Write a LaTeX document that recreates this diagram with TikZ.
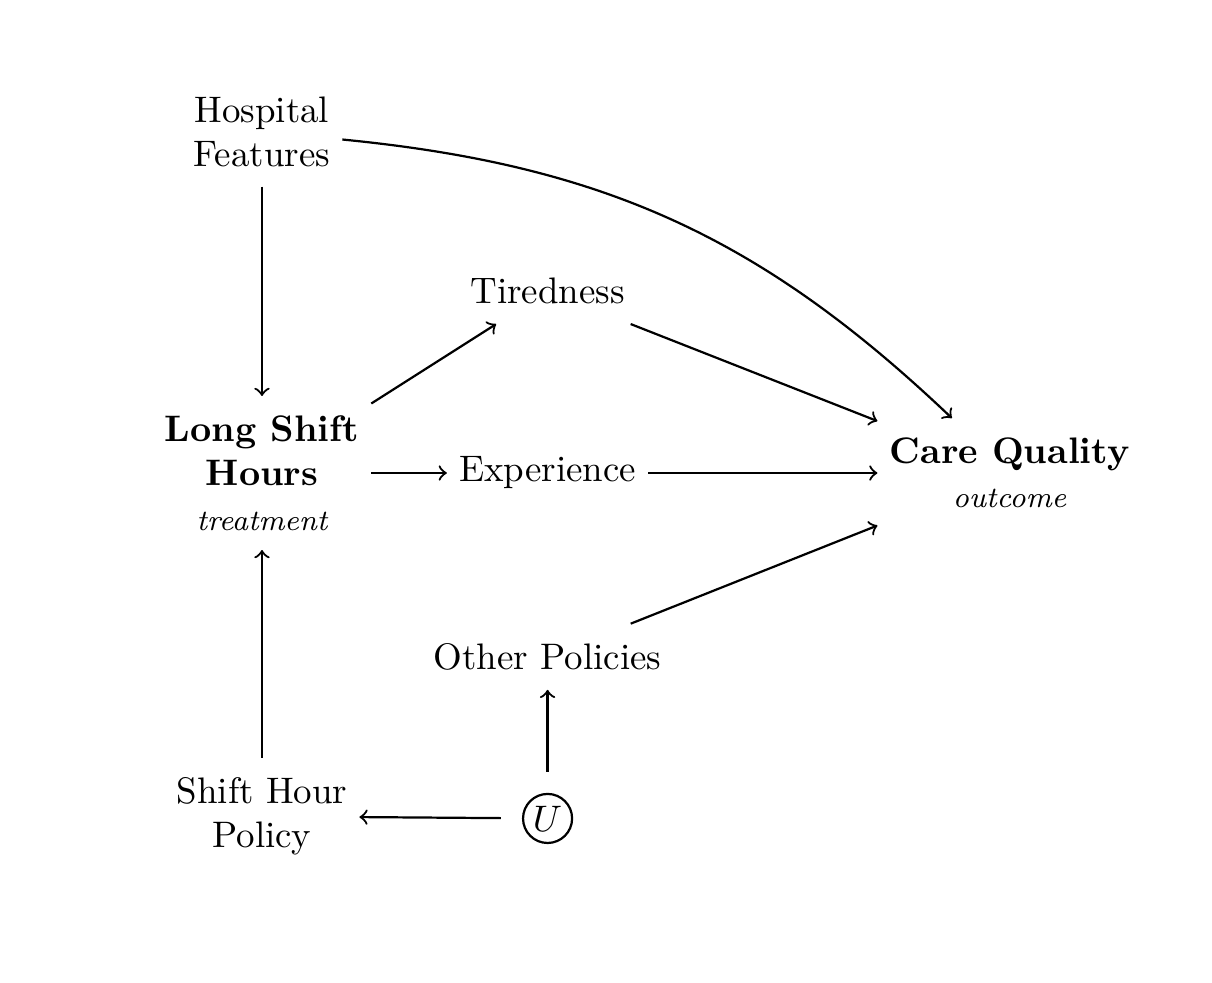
\documentclass[tikz,border=0pt]{standalone}
\usepackage{tikz}
\usetikzlibrary{positioning}

\begin{document}
\begin{tikzpicture}[>=to]

        % --- Styles ---
        \tikzset{
            var/.style={align=center, outer xsep=0pt, outer ysep=2pt},
            mainvar/.style={var, font=\bfseries},
            latent/.style={draw, semithick, circle, inner sep=1pt, outer xsep=4.5pt, outer ysep=6pt},
            causal/.style={->, semithick}
        }

        \useasboundingbox (-2.495,-4.848) rectangle (9.048,4.505);

        % --- Treatment and outcome ---
        \node[mainvar] (hours) at (0,0) {Long Shift\\Hours\\{\normalfont\footnotesize\itshape treatment}};
        \node[mainvar] (care) at (7.12,0) {Care Quality\\{\normalfont\footnotesize\itshape outcome}};

        % --- Other variables ---
        \node[var] (hosp) at (0,3.25) {Hospital\\Features};
        \node[var] (tired) at (2.72,1.73) {Tiredness};
        \node[var] (exper) at (2.72,0) {Experience};
        \node[var] (other) at (2.72,-1.75) {Other Policies};
        \node[var] (policy) at (0,-3.27) {Shift Hour\\Policy};
        \node[latent] (u) at (2.72,-3.29) {$U$};

        % --- Edges ---
        \draw[causal] (hosp) -- (hours);
        \draw[causal] (hosp) to[bend left=19] (care);
        \draw[causal] (hours) -- (tired);
        \draw[causal] (hours) -- (exper);
        \draw[causal] (tired) -- (care);
        \draw[causal] (exper) -- (care);
        \draw[causal] (other) -- (care);
        \draw[causal] (policy) -- (hours);
        \draw[causal] (u) -- (policy);
        \draw[causal] (u) -- (other);

\end{tikzpicture}
\end{document}
